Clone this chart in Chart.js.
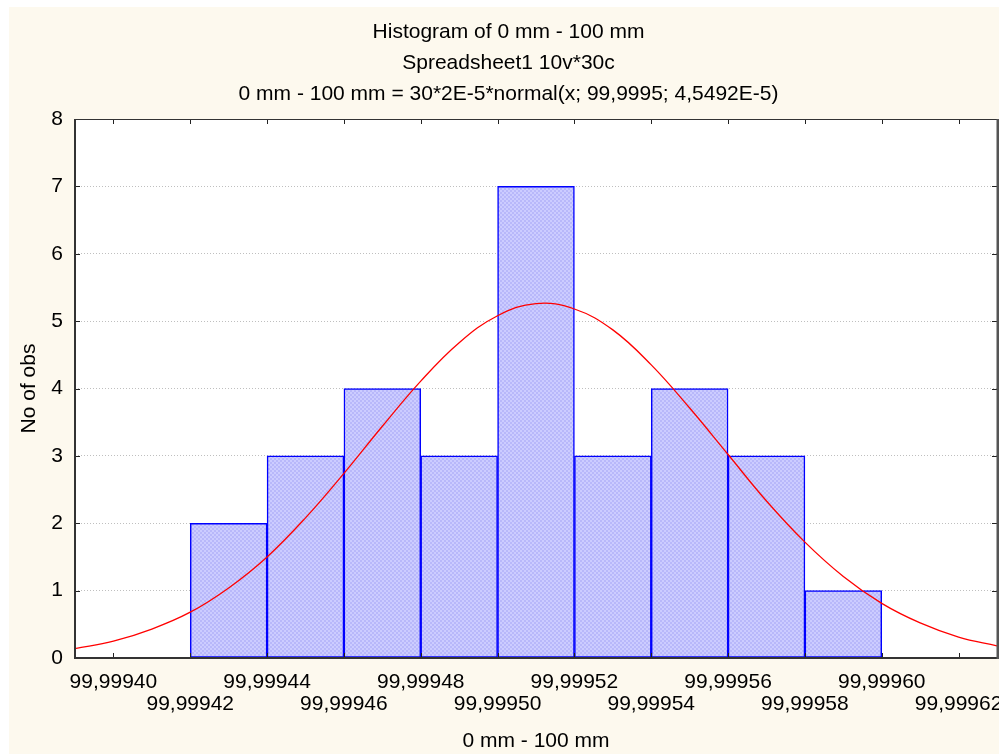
<!DOCTYPE html>
<html>
<head>
<meta charset="utf-8">
<title>Histogram of 0 mm - 100 mm</title>
<script src="https://cdn.jsdelivr.net/npm/chart.js@4.4.1/dist/chart.umd.min.js"></script>
<style>
  html, body { margin: 0; padding: 0; background: #ffffff; }
  canvas { display: block; }
</style>
</head>
<body>
<canvas id="hist" width="999" height="754"></canvas>
<script>
// bin centres (width 2E-5) and number of observations in each bin
const binCenters = [99.99943, 99.99945, 99.99947, 99.99949, 99.99951, 99.99953, 99.99955, 99.99957, 99.99959];
const counts = [2, 3, 4, 3, 7, 3, 4, 3, 1];

// fitted normal curve
const curveX = [99.99939, 99.99940, 99.99941, 99.99942, 99.99943, 99.99944, 99.99945, 99.99946, 99.99947,
  99.99948, 99.99949, 99.99950, 99.99951, 99.99952, 99.99953, 99.99954, 99.99955, 99.99956, 99.99957,
  99.99958, 99.99959, 99.99960, 99.99961, 99.99962, 99.99963];
const curveY = [0.14, 0.25, 0.43, 0.68, 1.04, 1.50, 2.08, 2.74, 3.44,
  4.11, 4.68, 5.08, 5.26, 5.18, 4.87, 4.35, 3.71, 3.02, 2.33,
  1.72, 1.21, 0.81, 0.52, 0.31, 0.18];

// axis ticks
const xTicks = [99.99940, 99.99942, 99.99944, 99.99946, 99.99948, 99.99950, 99.99952,
  99.99954, 99.99956, 99.99958, 99.99960, 99.99962];
const yTicks = [0, 1, 2, 3, 4, 5, 6, 7, 8];

const titleLines = [
  'Histogram of 0 mm - 100 mm',
  'Spreadsheet1 10v*30c',
  '0 mm - 100 mm = 30*2E-5*normal(x; 99,9995; 4,5492E-5)'
];

const FONT = '"Liberation Sans", Arial, sans-serif';

// checkered blue fill like the original
function makeFill() {
  const c = document.createElement('canvas');
  c.width = 4; c.height = 4;
  const g = c.getContext('2d');
  g.fillStyle = 'rgb(204,204,255)';
  g.fillRect(0, 0, 4, 4);
  g.fillStyle = 'rgb(184,184,250)';
  g.fillRect(0, 0, 2, 2);
  g.fillRect(2, 2, 2, 2);
  return g.createPattern(c, 'repeat');
}

const fmt = v => v.toFixed(5).replace('.', ',');

const frame = {
  id: 'frame',
  beforeDraw(chart) {
    const { ctx, chartArea: a } = chart;
    ctx.save();
    ctx.fillStyle = '#ffffff';
    ctx.fillRect(0, 0, chart.width, chart.height);
    ctx.fillStyle = '#fdf9ee';
    ctx.fillRect(9, 7, chart.width - 9, chart.height - 7);
    ctx.fillStyle = '#ffffff';
    ctx.fillRect(a.left, a.top, a.right - a.left, a.bottom - a.top);
    ctx.restore();
  },
  afterDraw(chart) {
    const { ctx, chartArea: a } = chart;
    const xs = chart.scales.x, ys = chart.scales.y;
    ctx.save();
    ctx.strokeStyle = '#222';
    ctx.lineWidth = 1;
    ctx.beginPath();
    xTicks.forEach(v => {
      const px = Math.round(xs.getPixelForValue(v)) + 0.5;
      ctx.moveTo(px, a.bottom); ctx.lineTo(px, a.bottom - 5);
      ctx.moveTo(px, a.top); ctx.lineTo(px, a.top + 5);
    });
    yTicks.forEach(v => {
      const py = Math.round(ys.getPixelForValue(v)) + 0.5;
      ctx.moveTo(a.left, py); ctx.lineTo(a.left + 5, py);
      ctx.moveTo(a.right, py); ctx.lineTo(a.right - 5, py);
    });
    ctx.stroke();
    // axis lines
    ctx.strokeStyle = '#333';
    ctx.lineWidth = 1;
    ctx.beginPath();
    ctx.moveTo(a.left, a.top + 0.5); ctx.lineTo(a.right, a.top + 0.5);
    ctx.stroke();
    ctx.lineWidth = 2;
    ctx.beginPath();
    ctx.moveTo(a.left, a.top); ctx.lineTo(a.left, a.bottom);
    ctx.lineTo(a.right, a.bottom);
    ctx.stroke();
    ctx.strokeStyle = '#555';
    ctx.lineWidth = 3;
    ctx.beginPath();
    ctx.moveTo(a.right + 1, a.top); ctx.lineTo(a.right + 1, a.bottom + 1);
    ctx.stroke();
    ctx.restore();
  }
};

const ctx = document.getElementById('hist').getContext('2d');

new Chart(ctx, {
  data: {
    datasets: [
      {
        type: 'line',
        data: curveX.map((x, i) => ({ x: x, y: curveY[i] })),
        borderColor: 'rgb(255,0,0)',
        borderWidth: 1.3,
        pointRadius: 0,
        tension: 0.4,
        order: 0
      },
      {
        type: 'bar',
        data: binCenters.map((x, i) => ({ x: x, y: counts[i] })),
        backgroundColor: makeFill(),
        borderColor: 'rgb(0,0,255)',
        borderWidth: 1.5,
        borderSkipped: false,
        barPercentage: 1,
        categoryPercentage: 1,
        order: 1
      }
    ]
  },
  options: {
    responsive: false,
    devicePixelRatio: 1,
    animation: false,
    layout: { padding: { left: 20, right: 2, top: 0, bottom: 0 } },
    plugins: {
      legend: { display: false },
      tooltip: { enabled: false },
      title: {
        display: true,
        text: titleLines,
        color: '#000',
        font: { family: FONT, size: 21, weight: 'normal', lineHeight: '31px' },
        padding: { top: 16.5, bottom: 9.5 }
      }
    },
    scales: {
      x: {
        type: 'linear',
        offset: false,
        min: 99.99939,
        max: 99.99963,
        afterBuildTicks: scale => { scale.ticks = xTicks.map(v => ({ value: v })); },
        afterFit: scale => { scale.height = 96; scale.paddingLeft = 0; scale.paddingRight = 0; },
        grid: { display: false, drawTicks: false, offset: false },
        border: { display: false },
        ticks: {
          autoSkip: false,
          maxRotation: 0,
          minRotation: 0,
          padding: 13,
          color: '#000',
          font: { family: FONT, size: 21, lineHeight: '22px' },
          callback: (v, i) => (i % 2 === 0 ? fmt(v) : ['', fmt(v)])
        },
        title: {
          display: true,
          text: '0 mm - 100 mm',
          color: '#000',
          font: { family: FONT, size: 21, lineHeight: '24px' },
          padding: { top: 0, bottom: 1 }
        }
      },
      y: {
        min: 0,
        max: 8,
        afterBuildTicks: scale => { scale.ticks = yTicks.map(v => ({ value: v })); },
        afterFit: scale => { scale.width = 55; },
        grid: { color: 'rgba(170,170,170,0.75)', lineWidth: 1, drawTicks: false },
        border: { display: false, dash: [1, 2] },
        ticks: {
          padding: 12,
          color: '#000',
          font: { family: FONT, size: 21 }
        },
        title: {
          display: true,
          text: 'No of obs',
          color: '#000',
          font: { family: FONT, size: 21, lineHeight: '18px' },
          padding: { top: 0, bottom: 0 }
        }
      }
    }
  },
  plugins: [frame]
});
</script>
</body>
</html>
